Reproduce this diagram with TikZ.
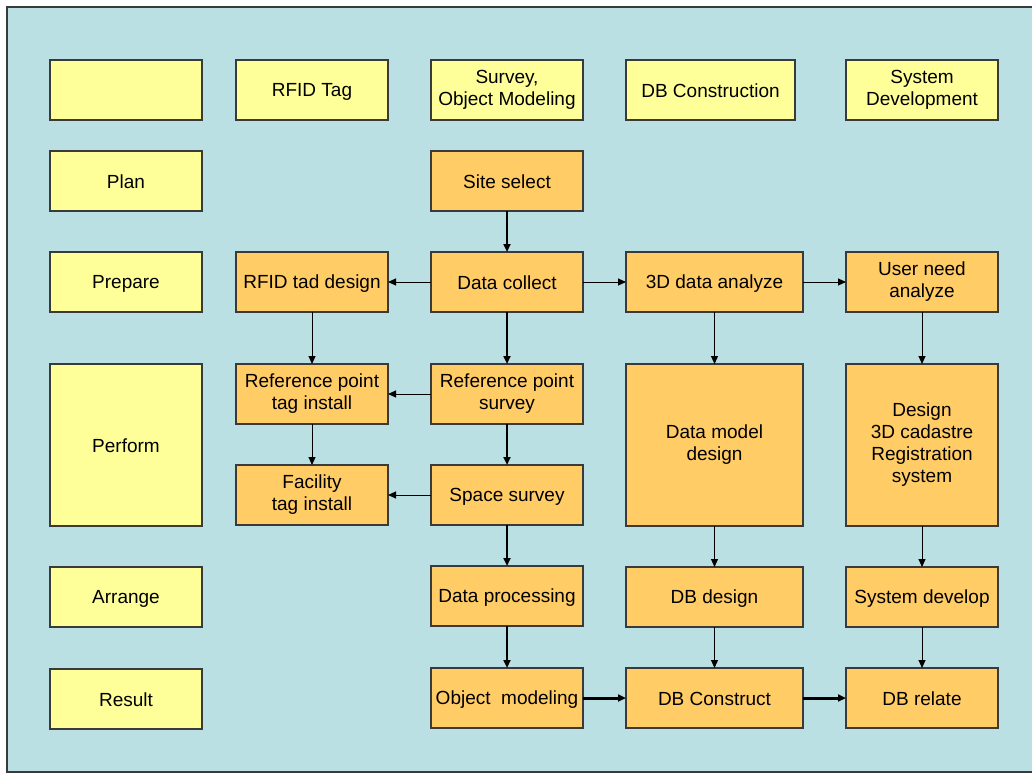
\documentclass[tikz,border=0pt]{standalone}
\usepackage{fontspec}
\setmainfont{Liberation Sans}
\usepackage{tikz}
\usetikzlibrary{positioning}
\usetikzlibrary{arrows.meta}

\definecolor{sheet}{HTML}{BAE0E3}
\definecolor{stagefill}{HTML}{FFFF99}
\definecolor{taskfill}{HTML}{FFCC66}
\definecolor{edge}{HTML}{3A3A3A}

\newcommand{\linestrut}{\rule[-2pt]{0pt}{19pt}}

\begin{document}
\begin{tikzpicture}
		[x=1pt, y=-1pt,
		box/.style={draw=edge, line width=1.2pt, minimum width=152pt, minimum height=60pt,
			inner sep=0pt, outer sep=0pt, align=center, font=\fontsize{19}{22}\selectfont,
			execute at begin node=\linestrut, execute at end node=\linestrut},
		stage/.style={box, fill=stagefill},
		task/.style={box, fill=taskfill},
		wide/.style={minimum width=177pt},
		tall/.style={minimum height=162pt},
		flow/.style={-{Triangle[length=8pt, width=7pt]}, line width=1pt},
		main/.style={flow, line width=2pt},
		bold/.style={flow, line width=3pt}]
		\useasboundingbox (0,0) rectangle (1032,773);
		\fill[white] (0,0) rectangle (1032,773);
		\fill[sheet] (7,7) rectangle (1032,772);
		\draw[edge, line width=1.2pt] (1032,7) -- (7,7) -- (7,772) -- (1032,772);

		% stages and headings
		\node[stage] (hblank) at (126,90) {};
		\node[stage, below=31pt of hblank] (plan) {Plan};
		\node[stage, below=41pt of plan] (prepare) {Prepare};
		\node[stage, tall, below=52pt of prepare] (perform) {Perform};
		\node[stage, below=41pt of perform] (arrange) {Arrange};
		\node[stage, below=42pt of arrange] (result) {Result};
		\node[stage, right=34pt of hblank] (hrfid) {RFID Tag};
		\node[stage, right=43pt of hrfid] (hsurvey) {Survey,\\Object Modeling};
		\node[stage, minimum width=169pt, right=43pt of hsurvey] (hdb) {DB Construction};
		\node[stage, right=51pt of hdb] (hsys) {System\\Development};

		% tasks
		\node[task, below=31pt of hsurvey] (site) {Site select};
		\node[task, below=41pt of site] (collect) {Data collect};
		\node[task, left=43pt of collect] (rfiddesign) {RFID tad design};
		\node[task, wide, right=43pt of collect] (analyze) {3D data analyze};
		\node[task, right=43pt of analyze] (userneed) {User need\\analyze};
		\node[task, below=52pt of collect] (refsurvey) {Reference point\\survey};
		\node[task, left=43pt of refsurvey] (reftag) {Reference point\\tag install};
		\node[task, below=41pt of refsurvey] (space) {Space survey};
		\node[task, left=43pt of space] (factag) {Facility\\tag install};
		\node[task, wide, tall, below=52pt of analyze] (datamodel) {Data model\\design};
		\node[task, tall, below=52pt of userneed] (cadastre) {Design\\3D cadastre\\Registration\\system};
		\node[task, below=41pt of space] (processing) {Data processing};
		\node[task, wide, below=41pt of datamodel] (dbdesign) {DB design};
		\node[task, below=41pt of cadastre] (sysdev) {System develop};
		\node[task, below=42pt of processing] (objmodel) {Object~~modeling};
		\node[task, wide, right=43pt of objmodel] (dbconstruct) {DB Construct};
		\node[task, right=43pt of dbconstruct] (dbrelate) {DB relate};

		\draw[main] (site) -- (collect);
		\draw[main] (collect) -- (refsurvey);
		\draw[main] (refsurvey) -- (space);
		\draw[main] (space) -- (processing);
		\draw[main] (processing) -- (objmodel);

		\draw[flow] (collect) -- (rfiddesign);
		\draw[flow] (collect) -- (analyze);
		\draw[flow] (analyze) -- (userneed);
		\draw[flow] (rfiddesign) -- (reftag);
		\draw[flow] (refsurvey) -- (reftag);
		\draw[flow] (reftag) -- (factag);
		\draw[flow] (space) -- (factag);
		\draw[flow] (analyze) -- (datamodel);
		\draw[flow] (userneed) -- (cadastre);
		\draw[flow] (datamodel) -- (dbdesign);
		\draw[flow] (cadastre) -- (sysdev);
		\draw[flow] (dbdesign) -- (dbconstruct);
		\draw[flow] (sysdev) -- (dbrelate);

		\draw[bold] (objmodel) -- (dbconstruct);
		\draw[bold] (dbconstruct) -- (dbrelate);
	\end{tikzpicture}
\end{document}
